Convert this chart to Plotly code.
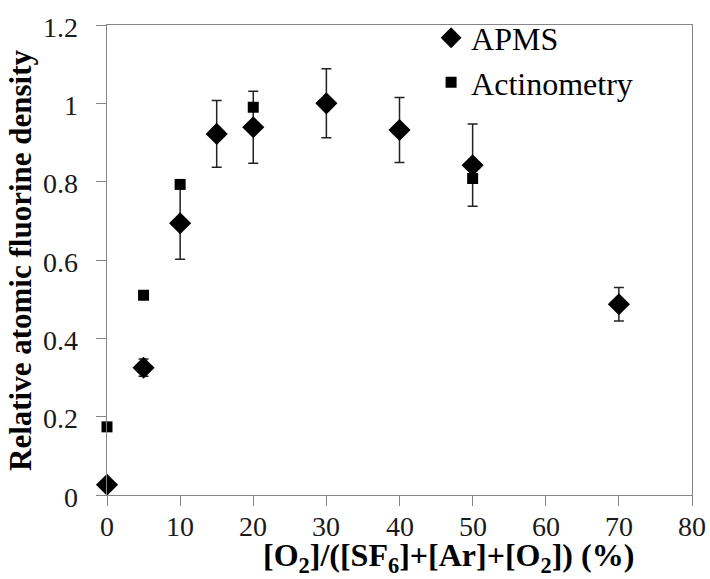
import plotly.graph_objects as go

o2_apms = [0, 5, 10, 15, 20, 30, 40, 50, 70]
apms = [0.026, 0.325, 0.694, 0.922, 0.939, 1.0, 0.932, 0.842, 0.487]
apms_err = [0.012, 0.022, 0.092, 0.085, 0.092, 0.088, 0.083, 0.105, 0.043]

o2_act = [0, 5, 10, 20, 50]
act = [0.174, 0.51, 0.793, 0.99, 0.808]

x_ticks = [0, 10, 20, 30, 40, 50, 60, 70, 80]
x_labels = [str(v) for v in x_ticks]
y_ticks = [0, 0.2, 0.4, 0.6, 0.8, 1.0, 1.2]
y_labels = ["0", "0.2", "0.4", "0.6", "0.8", "1", "1.2"]

x_title = "<b>[O<sub>2</sub>]/([SF<sub>6</sub>]+[Ar]+[O<sub>2</sub>]) (%)</b>"
y_title = "<b>Relative atomic fluorine density</b>"

font = "Liberation Serif"
tick_font = dict(family=font, size=28, color="#1a1a1a")

fig = go.Figure()
fig.add_trace(go.Scatter(
    x=o2_apms, y=apms, mode="markers", name="APMS", legendgroup="a",
    marker=dict(symbol="diamond", size=17, color="black"),
    error_y=dict(type="data", array=apms_err, visible=True, color="#222222", thickness=1.5, width=5),
    cliponaxis=False,
))
fig.add_trace(go.Scatter(
    x=o2_act, y=act, mode="markers", name="Actinometry", legendgroup="b",
    marker=dict(symbol="square", size=11, color="black"),
    cliponaxis=False,
))

axis_common = dict(
    showline=True, linecolor="#868686", linewidth=1.2, mirror=True,
    ticks="outside", ticklen=10, tickcolor="#868686", tickwidth=1.2,
    showgrid=False, zeroline=False, showticklabels=False, automargin=False,
)

fig.update_layout(
    width=710, height=579,
    margin=dict(l=107, r=18, t=25, b=84, autoexpand=False),
    paper_bgcolor="white", plot_bgcolor="white",
    font=dict(family=font, size=28, color="#1a1a1a"),
    xaxis=dict(range=[0, 80], tickvals=x_ticks, **axis_common),
    yaxis=dict(range=[0, 1.2], tickvals=y_ticks, **axis_common),
    legend=dict(x=0.554, y=1.031, xanchor="left", yanchor="top",
                font=dict(family=font, size=32, color="black"),
                bgcolor="rgba(0,0,0,0)", tracegroupgap=0),
    showlegend=True,
)

# tick labels placed through the axes' own data scales
for v, lab in zip(x_ticks, x_labels):
    fig.add_annotation(text=lab, xref="x", yref="paper", x=v, y=0,
                       xanchor="center", yanchor="middle", yshift=-31,
                       showarrow=False, font=tick_font)
for v, lab in zip(y_ticks, y_labels):
    fig.add_annotation(text=lab, xref="paper", yref="y", x=0, y=v,
                       xanchor="right", yanchor="middle", xshift=-27, yshift=-2,
                       showarrow=False, font=tick_font)

fig.add_annotation(text=x_title, xref="paper", yref="paper", x=0.583, y=0,
                   xanchor="center", yanchor="middle", yshift=-62, showarrow=False,
                   font=dict(family=font, size=32, color="black"))
fig.add_annotation(text=y_title, xref="paper", yref="paper", x=-0.1487, y=0.5,
                   xanchor="center", yanchor="middle", textangle=-90, showarrow=False,
                   font=dict(family=font, size=31, color="black"))

fig.write_html("out.html")
